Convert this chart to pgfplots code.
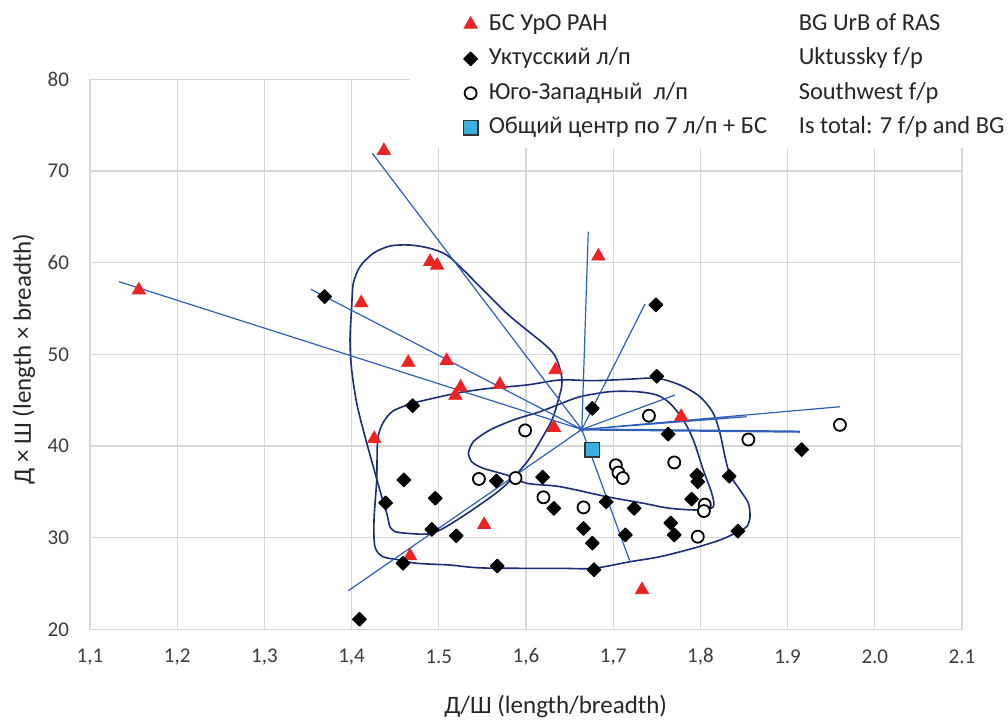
\documentclass[border=0pt]{standalone}
\usepackage{fontspec}
\setmainfont{Carlito}
\usepackage{pgfplots}
\pgfplotsset{compat=1.18}

\definecolor{gridc}{RGB}{215,215,215}
\definecolor{raycol}{RGB}{45,95,185}
\definecolor{loopcol}{RGB}{28,45,120}
\definecolor{bsred}{RGB}{235,35,35}
\definecolor{centre}{RGB}{60,175,225}
\definecolor{ticktext}{RGB}{60,60,60}

\newcommand{\entry}[2]{\hspace{3.5pt}\makebox[155pt][l]{#1}#2}

\begin{document}
\begin{tikzpicture}
\path[use as bounding box] (0,0) rectangle (504pt,361pt);
\begin{axis}[
    at={(45pt,46.35pt)}, anchor=south west,
    scale only axis, width=436pt, height=275pt,
    xmin=1.1, xmax=2.1, ymin=20, ymax=80,
    xtick={1.1,1.2,1.3,1.4,1.5,1.6,1.7,1.8,1.9,2.0,2.1},
    xticklabels={{1,1},{1,2},{1,3},{1,4},{1.5},{1,6},{1,7},{1,8},{1.9},{2.0},{2.1}},
    ytick={20,30,40,50,60,70,80},
    grid=major,
    major grid style={gridc, line width=0.6pt},
    axis line style={gridc, line width=0.6pt},
    major tick length=0pt,
    tick label style={font=\fontsize{10.5}{12}\selectfont, text=ticktext},
    xticklabel style={anchor=center, yshift=-13.7pt},
    yticklabel style={anchor=east, xshift=-7pt},
    /pgf/number format/assume math mode=true,
    xlabel={Д/Ш (length/breadth)},
    ylabel={Д × Ш (length × breadth)},
    label style={font=\fontsize{12.5}{14}\selectfont, text=black!85},
    xlabel style={at={(axis description cs:0.534,-0.1395)}, anchor=center},
    ylabel style={at={(axis description cs:-0.0757,0.4915)}, anchor=center},
    legend image code/.code={\draw[mark repeat=2,mark phase=2,#1] plot coordinates {(0pt,0pt) (5.5pt,0pt) (12pt,0pt)};},
    legend style={at={(0.367,0.8751)}, anchor=south west, draw=none, fill=white,
        inner xsep=26.5pt, inner ysep=2.5pt, row sep=2.2pt,
        font=\fontsize{12.2}{14}\selectfont, text=black!85,
        nodes={inner sep=2pt, text height=8.5pt, text depth=2.5pt}},
    legend cell align=left,
]

% contour of BG UrB RAS
\addplot[loopcol, line width=0.8pt, smooth, tension=0.5, forget plot] coordinates {
    (1.4498,30.65) (1.4440,31.19) (1.4403,32.65) (1.4345,34.47) (1.4249,37.74)
    (1.4154,41.01) (1.4059,44.65) (1.4001,48.29) (1.3982,51.56) (1.4001,55.19)
    (1.4020,57.75) (1.4096,59.56) (1.4249,61.02) (1.4440,61.81) (1.4670,61.92)
    (1.4899,61.56) (1.5091,60.83) (1.5281,59.20) (1.5510,57.01) (1.5779,54.47)
    (1.6008,52.65) (1.6198,51.20) (1.6313,50.11) (1.6370,49.02) (1.6409,47.56)
    (1.6409,46.47) (1.6370,45.01) (1.6313,43.19) (1.6237,41.74) (1.6011,38.25)
    (1.5702,35.20) (1.5209,31.92) (1.4919,30.47) (1.4632,30.47) (1.4498,30.65)
};
% contour of Uktussky f/p
\addplot[loopcol, line width=0.8pt, smooth, tension=0.5, forget plot] coordinates {
    (1.4704,44.69) (1.5014,45.37) (1.5278,45.89) (1.5587,46.29) (1.6008,46.65)
    (1.6390,47.20) (1.6768,47.12) (1.7155,47.27) (1.7499,47.38) (1.7766,46.65)
    (1.7995,45.37) (1.8148,43.56) (1.8225,41.38) (1.8282,38.83) (1.8340,36.83)
    (1.8454,35.20) (1.8549,33.75) (1.8569,32.28) (1.8531,31.19) (1.8435,30.65)
    (1.8225,29.74) (1.7919,28.84) (1.7537,27.92) (1.7193,27.37) (1.6772,26.65)
    (1.6390,26.65) (1.5507,26.69) (1.5128,27.01) (1.4747,27.20) (1.4555,27.56)
    (1.4360,27.92) (1.4268,29.01) (1.4257,31.92) (1.4288,36.29) (1.4299,40.65)
    (1.4360,42.51) (1.4475,43.81) (1.4704,44.69)
};
% contour of Southwest f/p
\addplot[loopcol, line width=0.8pt, smooth, tension=0.5, forget plot] coordinates {
    (1.5338,39.20) (1.5396,40.47) (1.5587,41.74) (1.5854,42.83) (1.6161,43.74)
    (1.6390,44.58) (1.6619,45.37) (1.6963,45.92) (1.7270,45.92) (1.7499,45.56)
    (1.7651,44.65) (1.7804,42.83) (1.7919,40.65) (1.8033,37.38) (1.8130,34.84)
    (1.8148,33.37) (1.7995,33.01) (1.7651,33.20) (1.7345,33.75) (1.6925,34.47)
    (1.6390,35.56) (1.6008,35.93) (1.5779,36.83) (1.5510,37.56) (1.5377,38.28)
    (1.5338,39.20)
};
% rays from the common centre
\addplot[raycol, line width=0.6pt, forget plot] coordinates {
    (1.664,41.8) (1.1333,57.92) (1.664,41.8) (1.4237,71.93)
    (1.664,41.8) (1.3534,57.09) (1.664,41.8) (1.6714,63.37)
    (1.664,41.8) (1.7365,55.49) (1.664,41.8) (1.3962,24.21)
    (1.664,41.8) (1.9601,44.28) (1.664,41.8) (1.8531,43.19)
    (1.664,41.8) (1.7709,45.56) (1.664,41.8) (1.7193,27.37)
};
\addplot[raycol, line width=1.1pt, forget plot] coordinates {
    (1.664,41.8) (1.9142,41.56)
};

\addplot[only marks, mark=triangle*, mark size=3.8pt, color=bsred] coordinates {
    (1.437,72.2) (1.156,57.0) (1.411,55.6) (1.490,60.1) (1.498,59.7) (1.683,60.7)
    (1.465,49.1) (1.509,49.3) (1.525,46.4) (1.519,45.5) (1.570,46.7) (1.634,48.3)
    (1.632,42.0) (1.426,40.8) (1.552,31.4) (1.467,28.0) (1.733,24.3) (1.778,43.2)
};
\addlegendentry{\entry{БС УрО РАН}{BG UrB of RAS}}

\addplot[only marks, mark=square*, mark size=2.4pt,
    mark options={rotate=45, fill=black, draw=black, line join=round, line width=0.6pt}] coordinates {
    (1.369,56.3) (1.749,55.4) (1.750,47.6) (1.470,44.4) (1.676,44.1) (1.763,41.3)
    (1.916,39.6) (1.460,36.3) (1.439,33.8) (1.496,34.3) (1.566,36.2) (1.619,36.6)
    (1.632,33.2) (1.692,33.9) (1.724,33.2) (1.796,36.8) (1.797,36.1) (1.833,36.7)
    (1.790,34.2) (1.492,30.9) (1.520,30.2) (1.666,31.0) (1.676,29.4) (1.714,30.3)
    (1.766,31.6) (1.770,30.3) (1.843,30.7) (1.459,27.2) (1.567,26.9) (1.678,26.5)
    (1.409,21.1)
};
\addlegendentry{\entry{Уктусский л/п}{Uktussky f/p}}

\addplot[only marks, mark=*, mark size=3pt,
    mark options={fill=white, draw=black, line width=0.9pt}] coordinates {
    (1.599,41.7) (1.741,43.3) (1.855,40.7) (1.960,42.3) (1.770,38.2) (1.703,37.9)
    (1.706,37.1) (1.711,36.5) (1.546,36.4) (1.588,36.5) (1.620,34.4) (1.666,33.3)
    (1.805,33.6) (1.804,32.9) (1.797,30.1)
};
\addlegendentry{\entry{Юго-Западный\ \ л/п}{Southwest f/p}}

\addplot[only marks, mark=square*, mark size=3.6pt,
    mark options={fill=centre, draw=black!80, line width=0.8pt}] coordinates {
    (1.676,39.6)
};
\addlegendentry{\entry{Общий центр по 7 л/п + БС}{Is total: 7 f/p and BG}}

\end{axis}
\end{tikzpicture}
\end{document}
